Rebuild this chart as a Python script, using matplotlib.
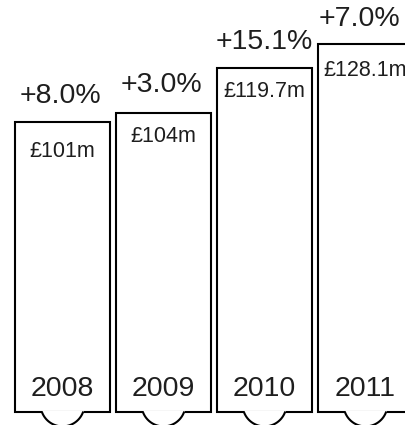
import numpy as np
import matplotlib.pyplot as plt

plt.rcParams['font.family'] = ['Liberation Sans', 'DejaVu Sans']

# Data
years = ['2008', '2009', '2010', '2011']
revenue = [101, 104, 119.7, 128.1]
value_labels = ['£101m', '£104m', '£119.7m', '£128.1m']
growth_labels = ['+8.0%', '+3.0%', '+15.1%', '+7.0%']

# hand-placed label nudges in the original (pixels)
growth_rise_px = [18.5, 21, 19, 18]
growth_shift_px = [-2, -2, 0, -6]
value_drop_px = [35, 29, 29, 32]

ink = '#1e1e1e'
px_per_unit = 2.87   # vertical pixels per £m
px_per_bar = 101.0   # horizontal pixels between bar centres
pt = 72 / 100        # points per pixel at dpi 100

fig = plt.figure(figsize=(4.06, 4.25), dpi=100)
ax = fig.add_axes([0, 0, 1, 1])
ax.set_xlim(-62.5 / px_per_bar, (406 - 62.5) / px_per_bar)
ax.set_ylim(-13.5 / px_per_unit, 411.5 / px_per_unit)
ax.axis('off')

x = np.arange(len(years))
width = 95 / px_per_bar

bars = ax.bar(x, revenue, width=width, facecolor='white', edgecolor='black',
              linewidth=1.5, zorder=2)

# scalloped bump under each bar (circle in pixel space)
r_px, d_px = 21.9, 7.0
half = np.sqrt(r_px**2 - d_px**2)
t = np.linspace(-half, half, 80)
yy = d_px - np.sqrt(r_px**2 - t**2)
for xi in x:
    ax.fill_between(xi + t / px_per_bar, yy / px_per_unit, 1.2 / px_per_unit,
                    color='white', linewidth=0, zorder=3)
    ax.plot(xi + t / px_per_bar, yy / px_per_unit, color='black', lw=1.5,
            zorder=4, solid_capstyle='butt')

for i, (xi, v) in enumerate(zip(x, revenue)):
    ax.annotate(growth_labels[i], (xi, v),
                xytext=(growth_shift_px[i] * pt, growth_rise_px[i] * pt),
                textcoords='offset points', ha='center', va='baseline',
                fontsize=20.5, color=ink)
    ax.annotate(value_labels[i], (xi, v), xytext=(0, -value_drop_px[i] * pt),
                textcoords='offset points', ha='center', va='baseline',
                fontsize=15.5, color=ink, zorder=5)
    ax.annotate(years[i], (xi, 0), xytext=(0, 16 * pt),
                textcoords='offset points', ha='center', va='baseline',
                fontsize=20.5, color=ink, zorder=5)

fig.savefig('out.png', dpi=100)
